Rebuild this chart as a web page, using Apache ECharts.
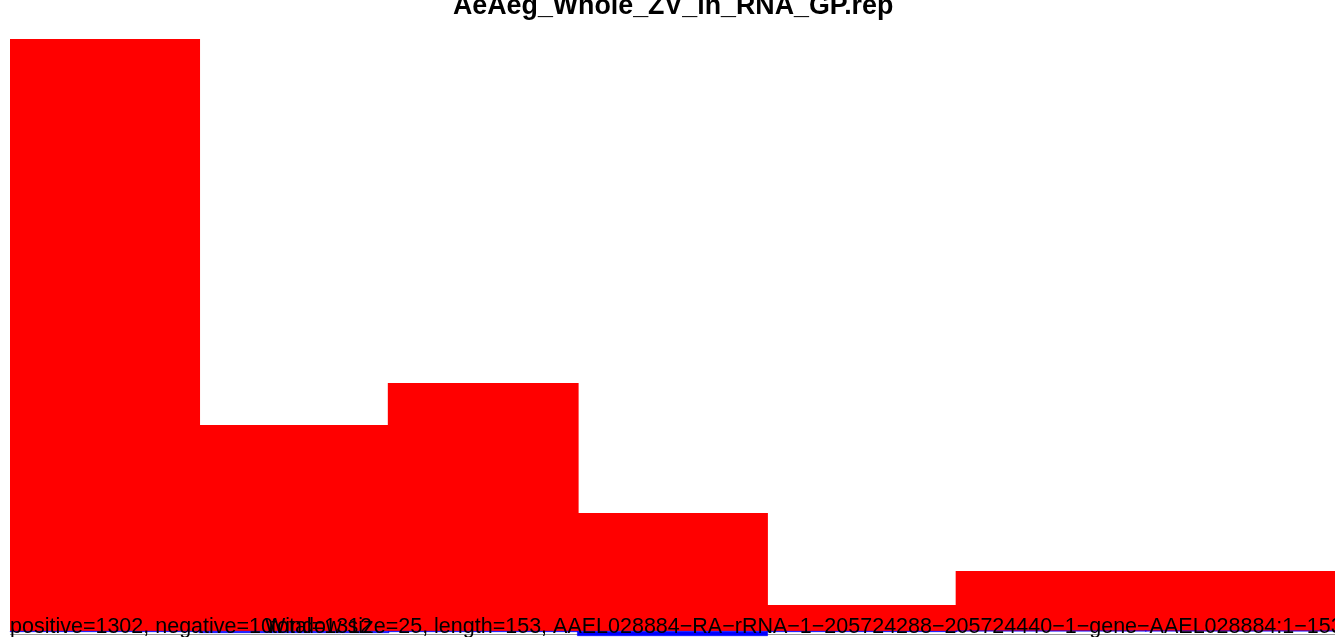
<!DOCTYPE html>
<html>
<head>
<meta charset="utf-8">
<script src="https://cdn.jsdelivr.net/npm/echarts@6/dist/echarts.min.js"></script>
<style>
html, body { margin: 0; padding: 0; background: #fff; }
#chart { width: 1335px; height: 637px; }
</style>
</head>
<body>
<div id="chart"></div>
<script>
// windows of 25 along the 153 nt reference
var windows = ["1-25", "26-50", "51-75", "76-100", "101-125", "126-150", "151-175"];
var positiveCounts = [592, 206, 248, 118, 26, 60, 60];
var negativeCounts = [-1, -2, -1, -5, -1, 0, 0];

var titleText = "AeAeg_Whole_ZV_in_RNA_GP.rep";
var countText = "positive=1302, negative=10";
var totalText = "total=1312";
// R draws the hyphens as minus signs
var infoText = "Window size=25, length=153, AAEL028884−RA−rRNA−1−205724288−205724440−1−gene−AAEL028884:1−153";

var font = "'Liberation Sans', Arial, Helvetica, sans-serif";

var myChart = echarts.init(document.getElementById("chart"));
var option = {
    animation: false,
    grid: {
        left: 10,
        width: 1326,
        top: 39,
        bottom: 1
    },
    xAxis: {
        type: 'category',
        data: windows,
        show: false
    },
    yAxis: {
        type: 'value',
        min: -5,
        max: 592,
        show: false
    },
    series: [
        {
            name: 'positive',
            type: 'bar',
            data: positiveCounts,
            barWidth: '100.8%',
            barGap: '-100%',
            itemStyle: { color: '#ff0000' },
            z: 2
        },
        {
            name: 'negative',
            type: 'bar',
            data: negativeCounts,
            barWidth: '100.8%',
            barGap: '-100%',
            itemStyle: { color: '#0000ff', borderColor: '#0000ff', borderWidth: 0.6 },
            z: 3,
            markLine: {
                silent: true,
                symbol: 'none',
                label: { show: false },
                lineStyle: { color: '#999999', type: 'solid', width: 1 },
                data: [{ yAxis: -3 }],
                z: 1
            }
        }
    ],
    graphic: [
        {
            type: 'text', left: 453, top: -7, z: 100,
            style: { text: titleText, font: "bold 26.8px " + font, fill: '#000' }
        },
        {
            type: 'text', left: 10, top: 616, z: 100,
            style: { text: countText, font: "21.5px " + font, fill: '#000' }
        },
        {
            type: 'text', left: 271, top: 616, z: 100,
            style: { text: totalText, font: "21.5px " + font, fill: '#000' }
        },
        {
            type: 'text', left: 265, top: 616, z: 100,
            style: { text: infoText, font: "21.5px " + font, fill: '#000' }
        }
    ]
};
myChart.setOption(option);
</script>
</body>
</html>
